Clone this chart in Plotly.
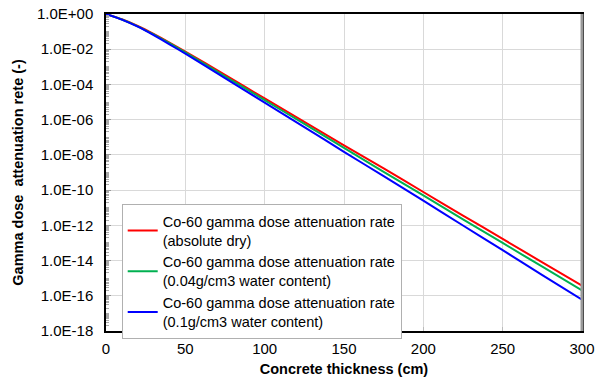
import plotly.graph_objects as go

thickness = [0, 10, 20, 30, 40, 50, 75, 100, 125, 150, 175, 200, 225, 250, 275, 300]

rate_dry = [1.0, 0.50, 0.21, 7.4e-2, 2.4e-2, 7.4e-3, 3.5e-4, 1.6e-5, 7.6e-7, 3.5e-8,
            1.7e-9, 7.8e-11, 3.6e-12, 1.7e-13, 7.9e-15, 3.8e-16]
rate_004 = [1.0, 0.49, 0.20, 6.9e-2, 2.2e-2, 6.6e-3, 2.9e-4, 1.3e-5, 5.7e-7, 2.5e-8,
            1.1e-9, 5.0e-11, 2.2e-12, 1.0e-13, 4.5e-15, 2.0e-16]
rate_01 = [1.0, 0.48, 0.19, 6.3e-2, 1.9e-2, 5.6e-3, 2.3e-4, 9.3e-6, 3.8e-7, 1.5e-8,
           6.2e-10, 2.5e-11, 9.8e-13, 3.9e-14, 1.5e-15, 6.0e-17]

names = ["Co-60 gamma dose attenuation rate<br>(absolute dry)",
         "Co-60 gamma dose attenuation rate<br>(0.04g/cm3 water content)",
         "Co-60 gamma dose attenuation rate<br>(0.1g/cm3 water content)"]
colors = ["#ff0000", "#00b050", "#0000ff"]

y_tickvals = [1e0, 1e-2, 1e-4, 1e-6, 1e-8, 1e-10, 1e-12, 1e-14, 1e-16, 1e-18]
y_ticktext = ["1.0E+00", "1.0E-02", "1.0E-04", "1.0E-06", "1.0E-08", "1.0E-10",
              "1.0E-12", "1.0E-14", "1.0E-16", "1.0E-18"]
x_tickvals = [0, 50, 100, 150, 200, 250, 300]

FONT = "Liberation Sans, Arial, sans-serif"

fig = go.Figure()
for ys, nm, c in zip([rate_dry, rate_004, rate_01], names, colors):
    fig.add_trace(go.Scatter(x=thickness, y=ys, mode="lines", name=nm,
                             line=dict(color=c, width=2, shape="spline", smoothing=0.3)))

fig.update_layout(
    width=598, height=378,
    margin=dict(l=106, r=16, t=14, b=47),
    paper_bgcolor="white", plot_bgcolor="white",
    font=dict(family=FONT, size=14, color="black"),
    showlegend=True,
    legend=dict(x=0.033, y=0.40, xanchor="left", yanchor="top",
                bgcolor="white", bordercolor="#b0b0b0", borderwidth=1,
                font=dict(size=14.5, family=FONT), tracegroupgap=4,
                itemwidth=30),
)
fig.update_xaxes(
    range=[0, 300], tickvals=x_tickvals, ticks="inside", ticklen=4,
    tickcolor="#bbbbbb", showgrid=True, gridcolor="#d9d9d9", gridwidth=1,
    showline=True, linecolor="black", linewidth=1.5, mirror=True, zeroline=False,
    ticklabelstandoff=3, automargin=False,
    title=dict(text="<b>Concrete thickness (cm)</b>", font=dict(size=14.5), standoff=8),
    tickfont=dict(size=15),
)
fig.update_yaxes(
    type="log", range=[-18, 0], tickvals=y_tickvals, ticktext=y_ticktext,
    ticks="inside", ticklen=5, tickcolor="#999999",
    showgrid=True, gridcolor="#d9d9d9", gridwidth=1,
    showline=True, linecolor="black", linewidth=1.5, mirror=True, zeroline=False,
    ticklabelstandoff=8, automargin=False,
    minor=dict(ticks="inside", ticklen=3, tickcolor="#aaaaaa", dtick="D1", showgrid=False),
    title=dict(text="<b>Gamma dose  attenuation rete (-)</b>", font=dict(size=14.5), standoff=10),
    tickfont=dict(size=15),
)
fig.add_shape(type="line", xref="paper", yref="paper", x0=1, x1=1, y0=0, y1=1,
              line=dict(color="#999999", width=3))

fig.write_html("out.html")
